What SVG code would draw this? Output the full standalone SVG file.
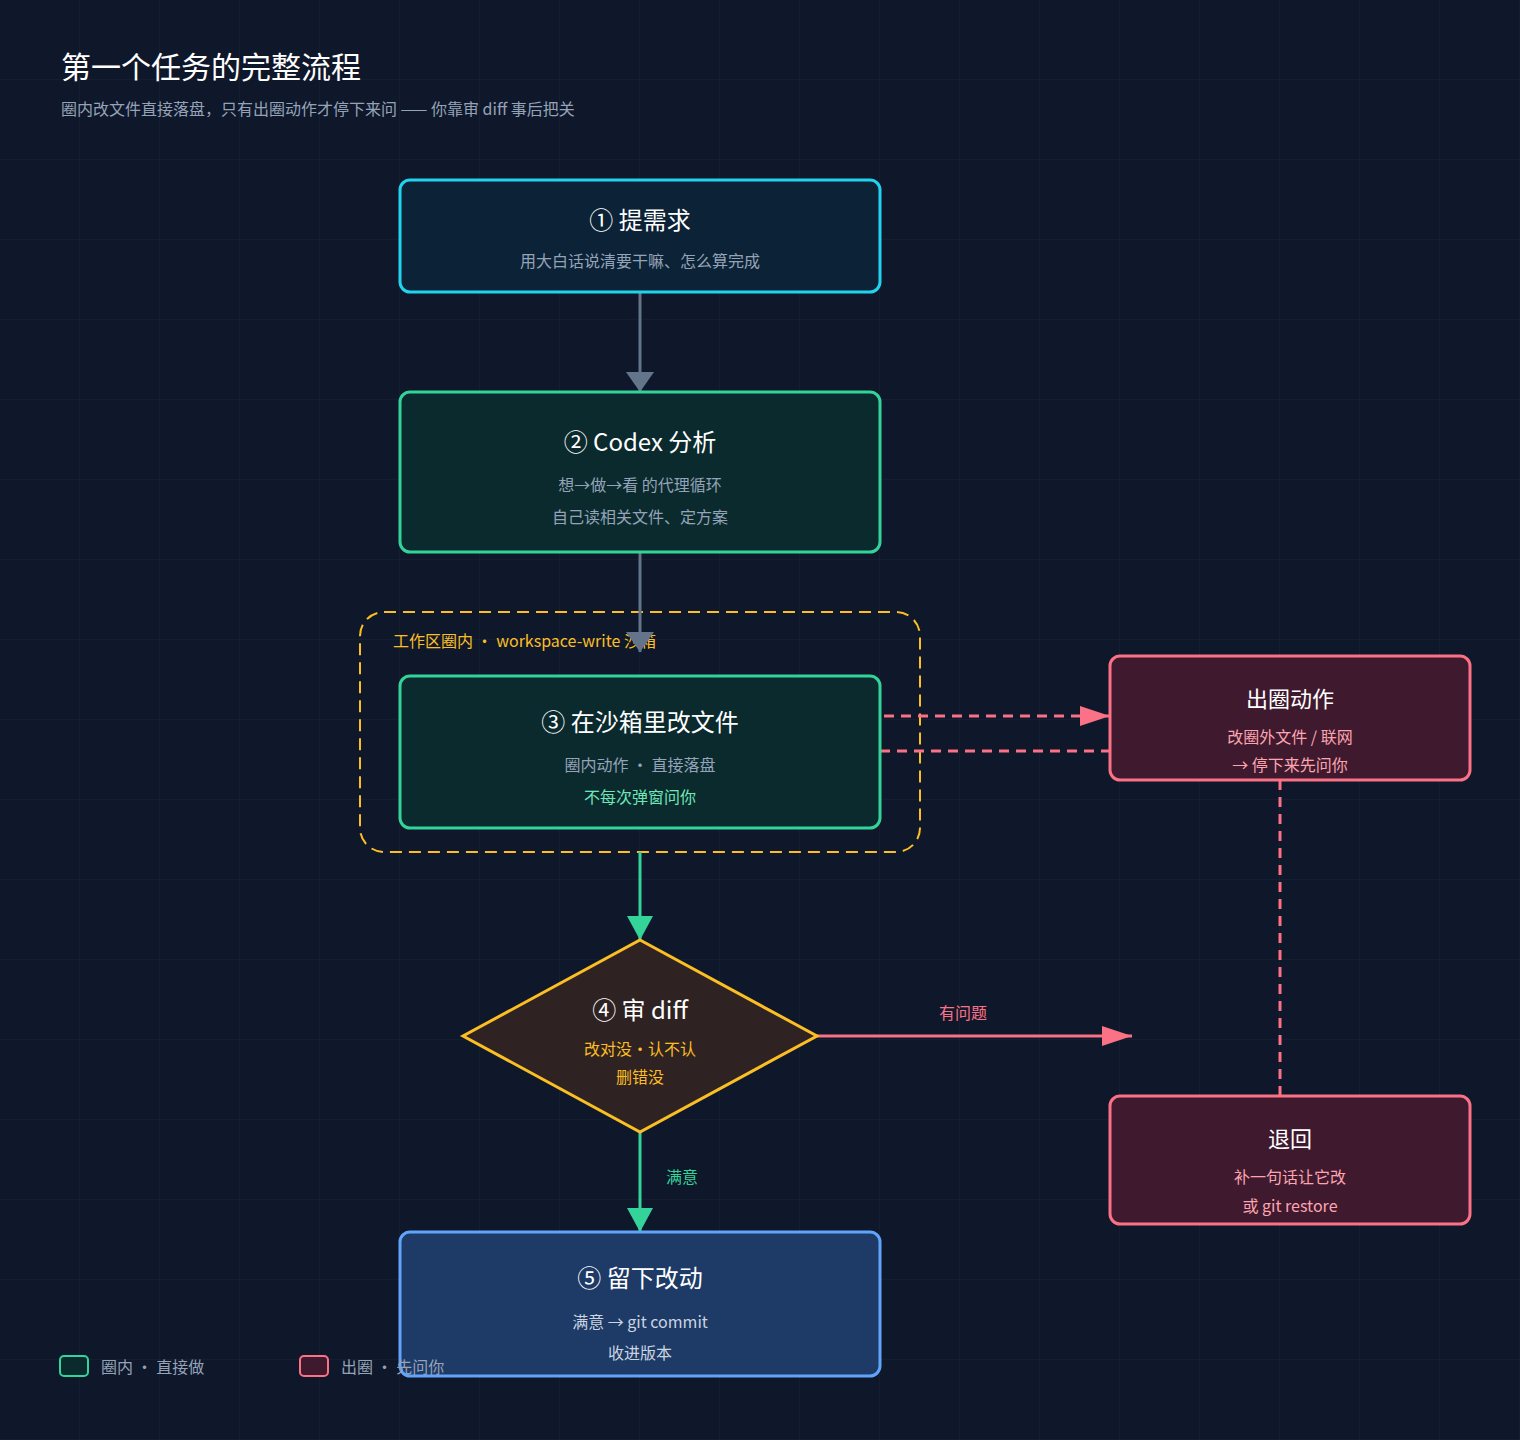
<svg xmlns="http://www.w3.org/2000/svg" width="1520" height="1440" viewBox="0 0 1520 1440">
<defs>
<pattern id="grid" width="80" height="80" patternUnits="userSpaceOnUse"><path d="M80 0V80H0" fill="none" stroke="#1e293b" stroke-width="1" opacity="0.7"/></pattern>
<marker id="ag" markerWidth="12" markerHeight="14" refX="12" refY="7" orient="auto" markerUnits="userSpaceOnUse"><path d="M0 0L12 7L0 14z" fill="#64748b"/></marker>
<marker id="agr" markerWidth="24" markerHeight="32" refX="24" refY="16" orient="auto" markerUnits="userSpaceOnUse"><path d="M0 3L24 16L0 29z" fill="#34d399"/></marker>
<marker id="ap" markerWidth="30" markerHeight="24" refX="30" refY="12" orient="auto" markerUnits="userSpaceOnUse"><path d="M0 2L30 12L0 22z" fill="#fb7185"/></marker>
<marker id="agb" markerWidth="20" markerHeight="28" refX="20" refY="14" orient="auto" markerUnits="userSpaceOnUse"><path d="M0 0L20 14L0 28z" fill="#64748b"/></marker>
</defs>
<style>
text{font-family:"Noto Sans CJK SC","Liberation Sans",sans-serif;text-anchor:middle}
.t{fill:#ffffff;font-size:24px}
.s{fill:#94a3b8;font-size:16px}
.node rect{stroke-width:3}
.pk{fill:#fda4af;font-size:16px}
</style>
<rect width="1520" height="1440" fill="#0f172a"/>
<rect width="1520" height="1440" fill="url(#grid)"/>
<text x="61" y="78" style="text-anchor:start;font-size:30px" fill="#ffffff">第一个任务的完整流程</text>
<text x="61" y="115" class="s" style="text-anchor:start">圈内改文件直接落盘，只有出圈动作才停下来问 —— 你靠审 diff 事后把关</text>

<g id="zone"><rect x="360" y="612" width="560" height="240" rx="24" fill="none" stroke="#fbbf24" stroke-width="2" stroke-dasharray="12 7"/>
<text x="393" y="647" style="text-anchor:start;font-size:16px" fill="#fbbf24">工作区圈内 · workspace-write 沙箱</text></g>

<g id="connectors" fill="none">
<line x1="640" y1="292" x2="640" y2="392" stroke="#64748b" stroke-width="3" marker-end="url(#agb)"/>
<line x1="640" y1="552" x2="640" y2="652" stroke="#64748b" stroke-width="3" marker-end="url(#agb)"/>
<line x1="884" y1="716" x2="1110" y2="716" stroke="#fb7185" stroke-width="3" stroke-dasharray="10 7" marker-end="url(#ap)"/>
<line x1="880" y1="751" x2="1110" y2="751" stroke="#fb7185" stroke-width="3" stroke-dasharray="10 7"/>
<line x1="1280" y1="780" x2="1280" y2="1096" stroke="#fb7185" stroke-width="3" stroke-dasharray="10 7"/>
<line x1="640" y1="852" x2="640" y2="940" stroke="#34d399" stroke-width="3" marker-end="url(#agr)"/>
<line x1="817" y1="1036" x2="1132" y2="1036" stroke="#fb7185" stroke-width="3" marker-end="url(#ap)"/>
<line x1="640" y1="1132" x2="640" y2="1232" stroke="#34d399" stroke-width="3" marker-end="url(#agr)"/>
<text x="963" y="1019" style="font-size:16px" fill="#fb7185">有问题</text>
<text x="682" y="1183" style="font-size:16px" fill="#34d399">满意</text>
</g>

<g id="n1" class="node"><rect x="400" y="180" width="480" height="112" rx="10" fill="#0c2236" stroke="#22d3ee"/>
<text x="640" y="229" class="t">① 提需求</text><text x="640" y="267" class="s">用大白话说清要干嘛、怎么算完成</text></g>
<g id="n2" class="node"><rect x="400" y="392" width="480" height="160" rx="10" fill="#0b2a2e" stroke="#34d399"/>
<text x="640" y="451" class="t">② Codex 分析</text><text x="640" y="491" class="s">想→做→看 的代理循环</text><text x="640" y="523" class="s">自己读相关文件、定方案</text></g>
<g id="n3" class="node"><rect x="400" y="676" width="480" height="152" rx="10" fill="#0b2a2e" stroke="#34d399"/>
<text x="640" y="731" class="t">③ 在沙箱里改文件</text><text x="640" y="771" class="s">圈内动作 · 直接落盘</text><text x="640" y="803" style="font-size:16px" fill="#6ee7b7">不每次弹窗问你</text></g>
<g id="out" class="node"><rect x="1110" y="656" width="360" height="124" rx="10" fill="#3f1a2f" stroke="#fb7185"/>
<text x="1290" y="707" class="t" style="font-size:22px">出圈动作</text><text x="1290" y="743" class="pk">改圈外文件 / 联网</text><text x="1290" y="771" class="pk">→ 停下来先问你</text></g>
<g id="back" class="node"><rect x="1110" y="1096" width="360" height="128" rx="10" fill="#3f1a2f" stroke="#fb7185"/>
<text x="1290" y="1147" class="t" style="font-size:22px">退回</text><text x="1290" y="1183" class="pk">补一句话让它改</text><text x="1290" y="1212" class="pk">或 git restore</text></g>
<g id="n4" class="node"><path d="M640 940L817 1036L640 1132L463 1036z" fill="#2f2222" stroke="#fbbf24" stroke-width="3"/>
<text x="640" y="1019" class="t">④ 审 diff</text><text x="640" y="1055" style="font-size:16px" fill="#fbbf24">改对没·认不认</text><text x="640" y="1083" style="font-size:16px" fill="#fbbf24">删错没</text></g>
<g id="n5" class="node"><rect x="400" y="1232" width="480" height="144" rx="10" fill="#1e3a66" stroke="#60a5fa"/>
<text x="640" y="1287" class="t">⑤ 留下改动</text><text x="640" y="1328" style="font-size:16px" fill="#cbd5e1">满意 → git commit</text><text x="640" y="1359" style="font-size:16px" fill="#cbd5e1">收进版本</text></g>

<g id="legend">
<rect x="60" y="1356" width="28" height="20" rx="4" fill="#0b2a2e" stroke="#34d399" stroke-width="2"/>
<text x="101" y="1373" class="s" style="text-anchor:start">圈内 · 直接做</text>
<rect x="300" y="1356" width="28" height="20" rx="4" fill="#3f1a2f" stroke="#fb7185" stroke-width="2"/>
<text x="341" y="1373" class="s" style="text-anchor:start">出圈 · 先问你</text>
</g>
</svg>
